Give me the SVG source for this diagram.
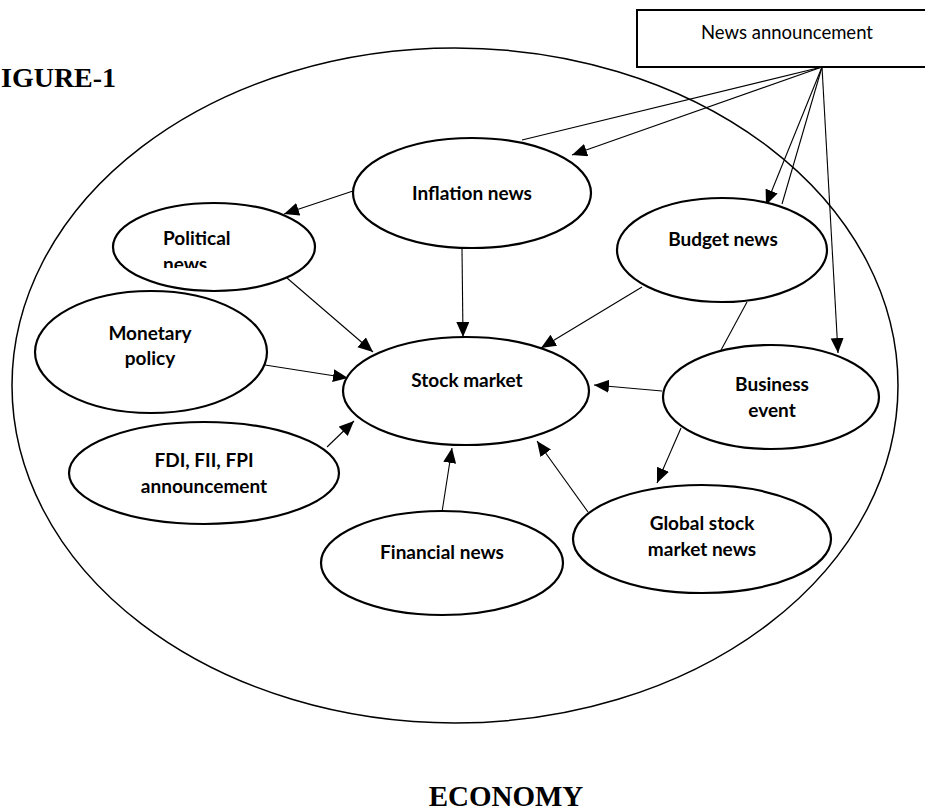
<svg xmlns="http://www.w3.org/2000/svg" width="925" height="811" viewBox="0 0 925 811">
<style>
.node{fill:#fff;stroke:#000;stroke-width:2.2}
.lbl{font-family:Lato,"Open Sans","Liberation Sans",sans-serif;font-weight:bold;font-size:19px;fill:#000;text-anchor:middle}
.con line{stroke:#000;stroke-width:1.1}
.title{font-family:"Liberation Serif","Times New Roman",serif;font-weight:bold;fill:#000}
</style>
<defs>
<marker id="ah" markerUnits="userSpaceOnUse" markerWidth="16" markerHeight="14" refX="15" refY="6.5" orient="auto">
<path d="M0,0 L15,6.5 L0,13 z" fill="#000"/>
</marker>
<clipPath id="polclip"><rect x="100" y="200" width="220" height="68"/></clipPath>
</defs>
<rect width="925" height="811" fill="#fff"/>

<text class="title" x="1" y="87" font-size="28">IGURE-1</text>
<text class="title" x="506" y="806" font-size="29" text-anchor="middle">ECONOMY</text>

<g id="economy">
<ellipse cx="455" cy="385.5" rx="443" ry="337.5" fill="none" stroke="#000" stroke-width="1.5"/>
</g>

<g id="news-announcement">
<rect x="637" y="10" width="300" height="57" fill="#fff" stroke="#000" stroke-width="2"/>
<text x="787" y="39" font-family="Lato,'Open Sans','Liberation Sans',sans-serif" font-size="18.5" text-anchor="middle">News announcement</text>
</g>

<g id="connectors" class="con">
<line x1="822" y1="67" x2="522" y2="140"/>
<line x1="822" y1="67" x2="572" y2="155" marker-end="url(#ah)"/>
<line x1="822" y1="67" x2="766" y2="205" marker-end="url(#ah)"/>
<line x1="822" y1="67" x2="782" y2="204"/>
<line x1="822" y1="67" x2="838" y2="353" marker-end="url(#ah)"/>
<line x1="353" y1="191" x2="284" y2="214" marker-end="url(#ah)"/>
<line x1="462" y1="249" x2="463" y2="337" marker-end="url(#ah)"/>
<line x1="287" y1="278" x2="373" y2="352" marker-end="url(#ah)"/>
<line x1="642" y1="287" x2="541" y2="348" marker-end="url(#ah)"/>
<line x1="747" y1="302" x2="720" y2="352"/>
<line x1="265" y1="365" x2="348" y2="378" marker-end="url(#ah)"/>
<line x1="662" y1="391" x2="594" y2="385" marker-end="url(#ah)"/>
<line x1="327" y1="447" x2="354" y2="421" marker-end="url(#ah)"/>
<line x1="681" y1="428" x2="657" y2="483" marker-end="url(#ah)"/>
<line x1="442" y1="512" x2="452" y2="448" marker-end="url(#ah)"/>
<line x1="588" y1="512" x2="537" y2="441" marker-end="url(#ah)"/>
</g>

<g id="inflation-news">
<ellipse class="node" cx="472" cy="193" rx="119" ry="55"/>
<text class="lbl" x="472" y="200">Inflation news</text>
</g>
<g id="political-news">
<ellipse class="node" cx="214" cy="247" rx="101" ry="44"/>
<g clip-path="url(#polclip)">
<text class="lbl" x="163" y="245" style="text-anchor:start">Political</text>
<text class="lbl" x="163" y="271" style="text-anchor:start">news</text>
</g>
</g>
<g id="budget-news">
<ellipse class="node" cx="722" cy="250" rx="105" ry="52"/>
<text class="lbl" x="723" y="246">Budget news</text>
</g>
<g id="monetary-policy">
<ellipse class="node" cx="151" cy="352" rx="116" ry="61"/>
<text class="lbl" x="150" y="340">Monetary</text>
<text class="lbl" x="150" y="365">policy</text>
</g>
<g id="stock-market">
<ellipse class="node" cx="466" cy="391" rx="123" ry="54"/>
<text class="lbl" x="467" y="387">Stock market</text>
</g>
<g id="business-event">
<ellipse class="node" cx="771" cy="397" rx="108" ry="52"/>
<text class="lbl" x="772" y="391">Business</text>
<text class="lbl" x="772" y="417">event</text>
</g>
<g id="fdi-fii-fpi">
<ellipse class="node" cx="204" cy="473" rx="135" ry="51"/>
<text class="lbl" x="204" y="467">FDI, FII, FPI</text>
<text class="lbl" x="204" y="493">announcement</text>
</g>
<g id="financial-news">
<ellipse class="node" cx="442" cy="563" rx="121" ry="52"/>
<text class="lbl" x="442" y="559">Financial news</text>
</g>
<g id="global-stock-market-news">
<ellipse class="node" cx="702" cy="539" rx="129" ry="54"/>
<text class="lbl" x="702" y="530">Global stock</text>
<text class="lbl" x="702" y="556">market news</text>
</g>
</svg>
